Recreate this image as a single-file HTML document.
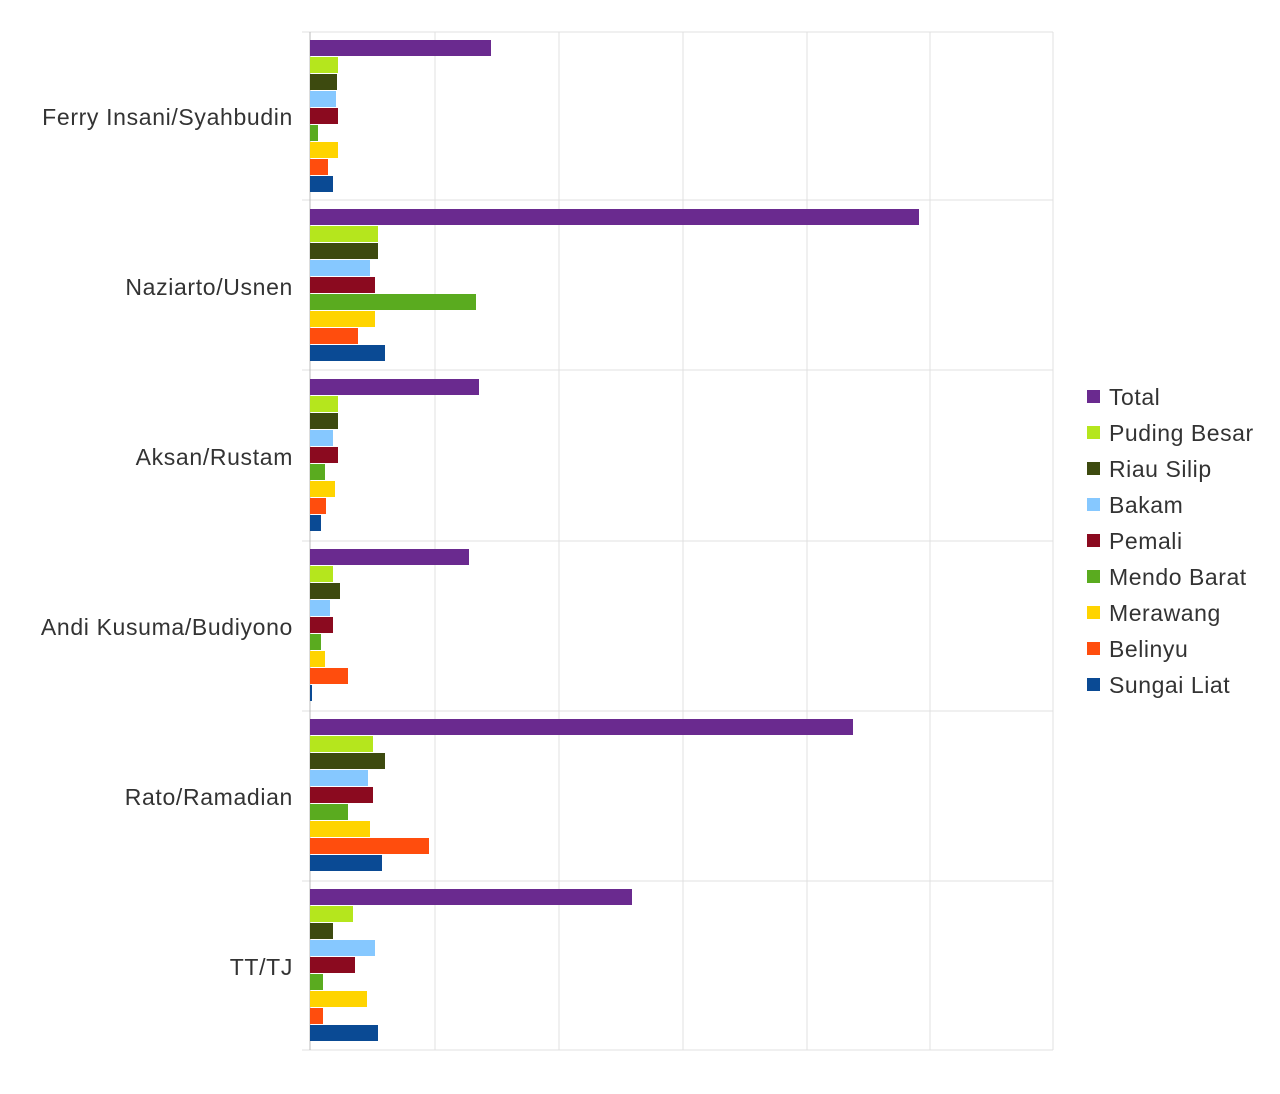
<!DOCTYPE html>
<html><head><meta charset="utf-8"><style>
body{margin:0;background:#fff;width:1280px;height:1089px;overflow:hidden;font-family:"Liberation Sans",sans-serif;}
</style></head><body>
<svg width="1280" height="1089" xmlns="http://www.w3.org/2000/svg" font-family="Liberation Sans, sans-serif">
<g stroke="#e0e0e0" stroke-width="1">
<line x1="435" y1="32" x2="435" y2="1050"/><line x1="559" y1="32" x2="559" y2="1050"/><line x1="683" y1="32" x2="683" y2="1050"/><line x1="807" y1="32" x2="807" y2="1050"/><line x1="930" y1="32" x2="930" y2="1050"/><line x1="1053" y1="32" x2="1053" y2="1050"/>
<line x1="302" y1="32" x2="1053" y2="32"/><line x1="302" y1="200" x2="1053" y2="200"/><line x1="302" y1="370" x2="1053" y2="370"/><line x1="302" y1="541" x2="1053" y2="541"/><line x1="302" y1="711" x2="1053" y2="711"/><line x1="302" y1="881" x2="1053" y2="881"/><line x1="302" y1="1050" x2="1053" y2="1050"/>
<line x1="310" y1="32" x2="310" y2="1050" stroke="#bbb"/>
</g>
<g>
<rect x="310" y="40" width="181" height="16" fill="#6a2a8f"/>
<rect x="310" y="57" width="28" height="16" fill="#b5e61d"/>
<rect x="310" y="74" width="27" height="16" fill="#3d4a0f"/>
<rect x="310" y="91" width="26" height="16" fill="#86c8ff"/>
<rect x="310" y="108" width="28" height="16" fill="#8b0a1f"/>
<rect x="310" y="125" width="8" height="16" fill="#5aab1f"/>
<rect x="310" y="142" width="28" height="16" fill="#ffd400"/>
<rect x="310" y="159" width="18" height="16" fill="#ff4d0d"/>
<rect x="310" y="176" width="23" height="16" fill="#0a4a94"/>
<rect x="310" y="209" width="609" height="16" fill="#6a2a8f"/>
<rect x="310" y="226" width="68" height="16" fill="#b5e61d"/>
<rect x="310" y="243" width="68" height="16" fill="#3d4a0f"/>
<rect x="310" y="260" width="60" height="16" fill="#86c8ff"/>
<rect x="310" y="277" width="65" height="16" fill="#8b0a1f"/>
<rect x="310" y="294" width="166" height="16" fill="#5aab1f"/>
<rect x="310" y="311" width="65" height="16" fill="#ffd400"/>
<rect x="310" y="328" width="48" height="16" fill="#ff4d0d"/>
<rect x="310" y="345" width="75" height="16" fill="#0a4a94"/>
<rect x="310" y="379" width="169" height="16" fill="#6a2a8f"/>
<rect x="310" y="396" width="28" height="16" fill="#b5e61d"/>
<rect x="310" y="413" width="28" height="16" fill="#3d4a0f"/>
<rect x="310" y="430" width="23" height="16" fill="#86c8ff"/>
<rect x="310" y="447" width="28" height="16" fill="#8b0a1f"/>
<rect x="310" y="464" width="15" height="16" fill="#5aab1f"/>
<rect x="310" y="481" width="25" height="16" fill="#ffd400"/>
<rect x="310" y="498" width="16" height="16" fill="#ff4d0d"/>
<rect x="310" y="515" width="11" height="16" fill="#0a4a94"/>
<rect x="310" y="549" width="159" height="16" fill="#6a2a8f"/>
<rect x="310" y="566" width="23" height="16" fill="#b5e61d"/>
<rect x="310" y="583" width="30" height="16" fill="#3d4a0f"/>
<rect x="310" y="600" width="20" height="16" fill="#86c8ff"/>
<rect x="310" y="617" width="23" height="16" fill="#8b0a1f"/>
<rect x="310" y="634" width="11" height="16" fill="#5aab1f"/>
<rect x="310" y="651" width="15" height="16" fill="#ffd400"/>
<rect x="310" y="668" width="38" height="16" fill="#ff4d0d"/>
<rect x="310" y="685" width="2" height="16" fill="#0a4a94"/>
<rect x="310" y="719" width="543" height="16" fill="#6a2a8f"/>
<rect x="310" y="736" width="63" height="16" fill="#b5e61d"/>
<rect x="310" y="753" width="75" height="16" fill="#3d4a0f"/>
<rect x="310" y="770" width="58" height="16" fill="#86c8ff"/>
<rect x="310" y="787" width="63" height="16" fill="#8b0a1f"/>
<rect x="310" y="804" width="38" height="16" fill="#5aab1f"/>
<rect x="310" y="821" width="60" height="16" fill="#ffd400"/>
<rect x="310" y="838" width="119" height="16" fill="#ff4d0d"/>
<rect x="310" y="855" width="72" height="16" fill="#0a4a94"/>
<rect x="310" y="889" width="322" height="16" fill="#6a2a8f"/>
<rect x="310" y="906" width="43" height="16" fill="#b5e61d"/>
<rect x="310" y="923" width="23" height="16" fill="#3d4a0f"/>
<rect x="310" y="940" width="65" height="16" fill="#86c8ff"/>
<rect x="310" y="957" width="45" height="16" fill="#8b0a1f"/>
<rect x="310" y="974" width="13" height="16" fill="#5aab1f"/>
<rect x="310" y="991" width="57" height="16" fill="#ffd400"/>
<rect x="310" y="1008" width="13" height="16" fill="#ff4d0d"/>
<rect x="310" y="1025" width="68" height="16" fill="#0a4a94"/>
</g>
<g font-size="23" fill="#333" text-anchor="end" letter-spacing="0.65">
<text x="293" y="125">Ferry Insani/Syahbudin</text>
<text x="293" y="295">Naziarto/Usnen</text>
<text x="293" y="465">Aksan/Rustam</text>
<text x="293" y="635">Andi Kusuma/Budiyono</text>
<text x="293" y="805">Rato/Ramadian</text>
<text x="293" y="975">TT/TJ</text>
</g>
<g font-size="23" fill="#333" letter-spacing="0.55">
<rect x="1087" y="390" width="13" height="13" fill="#6a2a8f"/><text x="1109" y="405">Total</text>
<rect x="1087" y="426" width="13" height="13" fill="#b5e61d"/><text x="1109" y="441">Puding Besar</text>
<rect x="1087" y="462" width="13" height="13" fill="#3d4a0f"/><text x="1109" y="477">Riau Silip</text>
<rect x="1087" y="498" width="13" height="13" fill="#86c8ff"/><text x="1109" y="513">Bakam</text>
<rect x="1087" y="534" width="13" height="13" fill="#8b0a1f"/><text x="1109" y="549">Pemali</text>
<rect x="1087" y="570" width="13" height="13" fill="#5aab1f"/><text x="1109" y="585">Mendo Barat</text>
<rect x="1087" y="606" width="13" height="13" fill="#ffd400"/><text x="1109" y="621">Merawang</text>
<rect x="1087" y="642" width="13" height="13" fill="#ff4d0d"/><text x="1109" y="657">Belinyu</text>
<rect x="1087" y="678" width="13" height="13" fill="#0a4a94"/><text x="1109" y="693">Sungai Liat</text>
</g>
</svg>
</body></html>
